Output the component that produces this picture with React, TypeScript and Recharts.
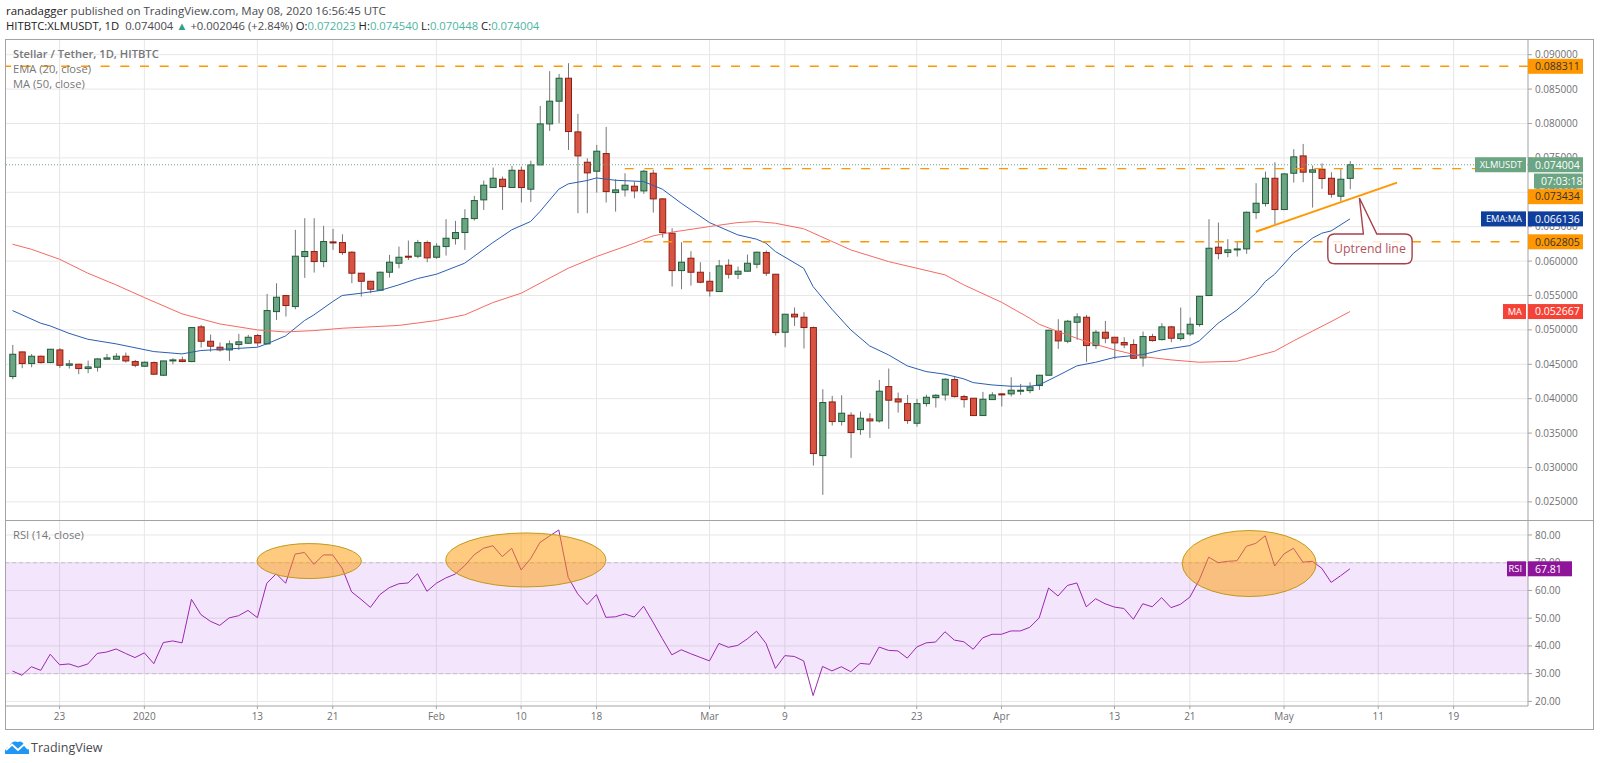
import { Bar, CartesianGrid, ComposedChart, Line, ReferenceArea, ReferenceDot, ReferenceLine, XAxis, YAxis } from 'recharts';

// prices are in 1/1000 USDT
const opens = [
  43.22, 46.8, 45.11, 46.17, 45.25, 47.09, 44.86, 45.01, 44.38, 44.57,
  45.74, 45.74, 46.17, 45.4, 44.72, 45.25, 43.41, 45.49, 45.64, 45.4,
  50.44, 48.35, 47.48, 47.09, 47.87, 48.06, 49.18, 47.97, 52.66, 54.99,
  53.39, 60.66, 61.39, 59.93, 62.79, 62.69, 61.29, 58.24, 57.07, 55.77,
  58.38, 59.69, 60.71, 60.71, 62.69, 60.56, 62.11, 63.27, 64.15, 66.18,
  68.9, 70.69, 71.9, 70.69, 73.2, 70.45, 73.98, 79.94, 83.24, 86.58,
  78.78, 74.37, 73.06, 75.63, 69.96, 70.35, 70.88, 70.2, 72.77, 69.04,
  64.05, 58.62, 60.42, 58.38, 57.07, 55.57, 59.4, 58.09, 58.53, 59.54,
  61.24, 58.09, 49.66, 52.28, 51.84, 50.34, 31.73, 39.53, 36.68, 37.6,
  35.51, 37.06, 36.77, 41.76, 39.97, 39.29, 36.43, 39.29, 40.16, 40.55,
  42.78, 40.31, 40.07, 37.55, 39.87, 40.7, 40.7, 41.09, 41.18, 41.91,
  43.41, 49.81, 48.35, 51.11, 51.84, 47.72, 49.66, 48.93, 48.16, 47.87,
  45.93, 49.03, 48.59, 50.44, 48.74, 49.42, 50.78, 54.99, 62.02, 61.24,
  61.68, 61.77, 67.05, 68.36, 72.04, 67.49, 72.77, 75.29, 72.92, 73.35,
  72.04, 69.43, 72.023,
];
const closes = [
  46.46, 45.11, 46.17, 45.25, 47.19, 44.86, 45.06, 44.38, 44.62, 45.78,
  45.93, 46.17, 45.49, 44.86, 45.3, 43.56, 45.49, 45.64, 45.4, 50.34,
  48.35, 47.63, 47.09, 47.97, 48.26, 48.93, 48.11, 52.81, 54.75, 53.54,
  60.71, 61.39, 59.93, 62.84, 62.69, 61.24, 58.24, 57.07, 55.91, 58.38,
  59.84, 60.56, 60.66, 62.69, 60.47, 62.16, 63.32, 64.15, 66.18, 68.8,
  71.03, 72.04, 70.83, 73.2, 70.69, 73.98, 79.94, 83.24, 86.58, 78.83,
  75.29, 72.82, 75.97, 70.1, 70.35, 71.03, 70.2, 73.06, 69.04, 64.15,
  58.62, 59.84, 58.38, 56.93, 55.67, 59.3, 58.09, 58.53, 59.69, 61.29,
  58.24, 49.61, 52.28, 51.89, 50.34, 32.03, 39.44, 36.68, 37.89, 35.08,
  37.16, 36.77, 41.09, 39.78, 39.53, 36.82, 39.29, 40.21, 40.5, 42.83,
  40.31, 39.87, 37.55, 39.92, 40.55, 40.6, 41.23, 41.23, 41.71, 43.41,
  49.95, 48.4, 51.26, 51.89, 47.72, 49.66, 48.79, 48.11, 47.82, 45.88,
  49.03, 48.45, 50.44, 48.79, 49.42, 50.82, 54.89, 61.87, 61.09, 61.63,
  61.77, 67.1, 68.41, 72.04, 67.49, 72.67, 75.15, 72.92, 73.26, 72,
  69.72, 71.9, 74.004,
];
const highs = [
  47.82, 46.85, 46.5, 46.27, 47.24, 47.34, 45.64, 45.06, 45.54, 45.88,
  46.51, 46.6, 46.7, 45.64, 45.4, 45.4, 45.5, 45.88, 46.12, 50.4,
  50.73, 49.32, 48.16, 48.45, 49.42, 49.27, 49.42, 55.23, 56.78, 55.04,
  64.54, 66.23, 66.23, 65.12, 64.68, 63.9, 61.43, 58.28, 57.12, 58.48,
  60.9, 62.11, 62.98, 63.08, 62.98, 62.6, 66.09, 65.84, 67.54, 69.48,
  71.71, 73.6, 72.29, 73.84, 73.74, 74.6, 82.56, 87.6, 87.2, 88.76,
  81.4, 74.95, 76.89, 79.5, 71.9, 72.77, 71.56, 73.26, 73.26, 69.14,
  64.78, 62.74, 61.43, 59.84, 58.43, 60.17, 60.27, 59.2, 60.95, 61.39,
  61.53, 58.14, 52.28, 53.25, 52.57, 50.48, 41.38, 40.41, 40.5, 38.03,
  38.13, 37.89, 42.73, 44.38, 40.89, 40.55, 39.97, 40.6, 40.65, 42.97,
  43.31, 40.55, 40.07, 40.99, 40.94, 40.79, 43.12, 42.15, 42.39, 43.46,
  50, 51.55, 51.45, 52.42, 52.18, 50, 51.31, 48.98, 48.93, 48.64,
  49.76, 49.42, 50.97, 50.58, 53.25, 51.79, 54.94, 66.09, 65.6, 63.18,
  62.84, 67.2, 71.32, 73.01, 74.37, 72.77, 76.26, 77.03, 73.89, 74.22,
  72.92, 73.5, 74.54,
];
const lows = [
  42.83, 44.43, 44.57, 45.11, 45.16, 44.48, 44.38, 43.56, 43.7, 43.94,
  45.74, 45.64, 45.25, 44.57, 44.62, 43.46, 43.31, 45.01, 45.3, 45.3,
  47.43, 46.85, 46.85, 45.49, 47.09, 47.97, 47.58, 47.87, 51.45, 51.94,
  53, 57.56, 58.33, 59.11, 61.63, 60.9, 56.78, 54.85, 55.33, 55.67,
  57.61, 58.96, 60.17, 60.42, 59.84, 60.32, 60.8, 62.4, 61.63, 65.89,
  67.44, 70.69, 67.44, 70.69, 68.51, 68.6, 73.98, 78.92, 80.04, 76.16,
  66.96, 66.96, 69.96, 68.51, 67.2, 69.38, 69.13, 69.77, 67.05, 63.42,
  56.3, 55.91, 56.44, 56.78, 54.85, 55.57, 57.46, 57.41, 58.48, 58.96,
  57.85, 49.18, 47.48, 50.58, 47.29, 30.28, 26.02, 36.1, 36.1, 31.4,
  34.74, 34.3, 36.53, 35.61, 37.98, 36.34, 35.95, 38.86, 38.71, 39.73,
  40.16, 38.71, 37.55, 37.55, 39.83, 38.86, 40.31, 40.55, 40.79, 41.28,
  43.41, 47.24, 48.06, 48.55, 45.35, 47.24, 48.06, 45.74, 47.34, 45.78,
  44.67, 48.3, 48.45, 48.21, 48.45, 49.13, 50.48, 54.94, 60.27, 60.56,
  60.66, 61.05, 66.13, 67.93, 65.36, 67.44, 71.41, 71.46, 67.78, 70.49,
  69.23, 68.65, 70.448,
];
const rsi = [
  30.96, 29.4, 32.5, 31.2, 37, 33.2, 33.5, 32.4, 33.5, 37.3,
  37.8, 38.9, 37.3, 35.8, 37.5, 33.6, 41.2, 41.8, 41.1, 56.8,
  51.3, 48.9, 47.4, 50.1, 50.9, 52.8, 50.2, 62.6, 66, 62.6,
  73.1, 73.7, 69.4, 72.8, 72.8, 68, 59.5, 56.8, 53.9, 58.5,
  61, 62.4, 62.7, 66, 59.7, 62.6, 64.5, 65.9, 68.9, 72.8,
  75.2, 76.1, 72.2, 75.2, 67.4, 71.4, 77.3, 79.6, 81.8, 64.7,
  58.8, 54.9, 58.5, 50.3, 50.5, 51.5, 50.4, 54.3, 48.6, 42.6,
  36.8, 38.6, 37.2, 35.9, 34.6, 40.9, 39.5, 40.2, 42.5, 45.3,
  40.9, 31.9, 36.5, 36.2, 34.6, 22.1, 32.6, 31, 32.5, 30.7,
  33.7, 33.4, 39.6, 38.4, 38.2, 35.6, 39.6, 41.1, 41.4, 45.1,
  42.1, 41.5, 38.8, 42.9, 44.2, 44.2, 45.4, 45.4, 46.7, 50.1,
  60.9, 58, 61.8, 62.7, 54.1, 57, 55.2, 54, 53.5, 49.6,
  55.2, 54.1, 57.4, 53.8, 55, 57.6, 63.8, 72, 70, 70.5,
  70.7, 75.9, 77, 79.7, 68.8, 73.2, 75.2, 70.2, 70.5, 68,
  62.9, 65.3, 67.81,
];

// [candle index, value] spots
const emaSpots = [
  [0, 52.81], [3, 50.97], [4, 50.58], [6, 49.5], [8, 48.64], [11, 47.97], [15, 46.85], [18, 46.51], [20, 47], [26, 47.48],
  [27, 47.97], [29, 49.13], [31, 51.36], [32, 52.18], [34, 54.12], [35, 55], [37, 55.33], [39, 55.72], [41, 56.54], [43, 57.46],
  [45, 58.09], [48, 59.69], [51, 62.69], [53, 64.54], [55, 65.75], [56, 67.2], [58, 70.45], [59, 71.22], [61, 71.71], [62, 72.09],
  [64, 71.75], [67, 71.56], [69, 70.45], [71, 68.41], [74, 65.6], [77, 63.81], [79, 63.18], [80, 62.6], [81, 61.39], [84, 58.96],
  [85, 56.3], [87, 53], [89, 50], [91, 47.67], [93, 46.37], [95, 44.77], [97, 43.94], [99, 43.56], [101, 42.88], [102, 42.34],
  [104, 42], [106, 41.81], [108, 41.81], [109, 42], [111, 43.36], [113, 44.77], [115, 45.3], [117, 46], [120, 46.41], [122, 47.09],
  [125, 47.72], [126, 48.4], [128, 50.97], [130, 52.9], [132, 55.33], [133, 57.03], [134, 58.09], [136, 61.14], [138, 63.32], [139, 64.05],
  [140, 64.39], [142, 66.136],
];
const maSpots = [
  [0, 62.45], [2, 61.72], [5, 60.27], [8, 58.24], [11, 56.54], [14, 54.7], [18, 52.33], [22, 50.87], [26, 50], [29, 49.7],
  [32, 49.9], [35, 50.24], [41, 50.65], [45, 51.36], [48, 52.18], [51, 53.97], [54, 55.33], [56, 56.78], [58, 58.24], [59, 58.96],
  [62, 60.66], [66, 62.6], [68, 63.66], [70, 64.2], [74, 65.02], [77, 65.6], [79, 65.75], [81, 65.5], [84, 64.7], [89, 61.63],
  [93, 59.93], [99, 58], [101, 56.54], [105, 54.02], [108, 51.7], [109, 50.82], [111, 49.76], [114, 48.3], [117, 47.1], [120, 46.12],
  [123, 45.64], [126, 45.3], [130, 45.45], [134, 46.9], [136, 48.4], [138, 49.81], [140, 51.21], [142, 52.667],
];

const tickIndex = [5, 14, 26, 34, 45, 54, 62, 74, 82, 96, 105, 117, 125, 135, 145, 153];
const tickLabels = ['23', '2020', '13', '21', 'Feb', '10', '18', 'Mar', '9', '23', 'Apr', '13', '21', 'May', '11', '19'];
const priceTicks = [25, 30, 35, 40, 45, 50, 55, 60, 65, 70, 75, 80, 85, 90];
const rsiTicks = [20, 30, 40, 50, 60, 70, 80];

const LAST_PRICE = 74.004;
const RESISTANCE = 88.311;
const MID_LEVEL = 73.434;
const SUPPORT = 62.805;
const EMA_LAST = 66.136;
const MA_LAST = 52.667;
const RSI_LAST = 67.81;

const xDomain = [-0.69, 160.9];
const priceDomain = [22.37, 92.28];
const rsiDomain = [18.34, 85.4];
const xMax = xDomain[1];

const spotMap = (spots: number[][]) => new Map(spots.map(([i, v]) => [i, v]));
const emaMap = spotMap(emaSpots);
const maMap = spotMap(maSpots);

const candles = closes.map((close, i) => ({
  i,
  open: opens[i],
  high: highs[i],
  low: lows[i],
  close,
  rsi: rsi[i],
  ema: emaMap.get(i) ?? null,
  ma: maMap.get(i) ?? null,
}));

const FONT = '"Open Sans", sans-serif';
const AXIS_TEXT = '#6f6f72';
const GRID = '#e7e7e7';
const FRAME = '#a3a3a3';
const ORANGE = '#ff9800';
const UP = '#6ba583';
const DOWN = '#d75442';
const BLUE = '#0f3f9c';
const RED = '#f44336';
const PURPLE = '#8e1599';

function Candle(props: any) {
  const { x, y, width, height, payload } = props;
  const { open, high, low, close } = payload;
  const perUnit = Math.abs(height) / (high - low || 1);
  const top = y + (high - Math.max(open, close)) * perUnit;
  const bodyH = Math.max(Math.abs(open - close) * perUnit, 1);
  const up = close >= open;
  const mid = x + width / 2;
  return (
    <g>
      <line x1={mid} x2={mid} y1={y} y2={y + Math.abs(height)} stroke="#77777a" strokeWidth={1} />
      <rect
        x={x}
        y={top}
        width={width}
        height={bodyH}
        fill={up ? UP : DOWN}
        stroke={up ? '#1f5c37' : '#8f1d12'}
        strokeWidth={1}
      />
    </g>
  );
}

// price tag sitting on the axis, with the optional name plate to its left
function AxisTag(props: any) {
  const { cx, cy, text, name, nameW = 0, bg, ink = '#fff', shift = 0, w = 55, inset = 0 } = props;
  const top = cy + shift - 7.5;
  return (
    <g>
      <rect x={cx + inset} y={top} width={w - inset} height={15} fill={bg} />
      <text x={cx + 7 + inset} y={top + 11.3} fontFamily={FONT} fontSize={10.5} fill={ink}>
        {text}
      </text>
      {name ? (
        <g>
          <rect x={cx - 2 - nameW} y={top} width={nameW} height={15} fill={bg} />
          <text x={cx - 6} y={top + 11} textAnchor="end" fontFamily={FONT} fontSize={9.3} fill={ink}>
            {name}
          </text>
        </g>
      ) : null}
    </g>
  );
}

// callout box, cx/cy is the tip of its pointer
function Callout({ cx, cy }: any) {
  const left = cx - 31.6;
  const right = cx + 52.7;
  const top = cy + 36;
  const bottom = cy + 65.8;
  const r = 7;
  const d = `M${left + r},${top} L${cx + 4},${top} L${cx},${cy} L${cx + 17.4},${top} L${right - r},${top} Q${right},${top} ${right},${top + r} L${right},${bottom - r} Q${right},${bottom} ${right - r},${bottom} L${left + r},${bottom} Q${left},${bottom} ${left},${bottom - r} L${left},${top + r} Q${left},${top} ${left + r},${top} Z`;
  return (
    <g>
      <path d={d} fill="rgba(255,255,255,0.8)" stroke="#a83f49" strokeWidth={1.4} />
      <text x={(left + right) / 2} y={top + 19} textAnchor="middle" fontFamily={FONT} fontSize={12.3} fill="#b3545d">
        Uptrend line
      </text>
    </g>
  );
}

function Oval({ cx, cy, rx, ry }: any) {
  return <ellipse cx={cx} cy={cy} rx={rx} ry={ry} fill="rgba(255,152,0,0.5)" stroke="#c2991c" strokeWidth={1} />;
}

function Logo() {
  return (
    <svg width={26} height={16} style={{ position: 'absolute', left: 4, top: 739 }}>
      <path
        d="M1,15 Q0,9 5,8 Q8,1 14,3 Q18,1 21,7 Q26,9 25,15 Z"
        fill="#2196f3"
      />
      <path d="M2,11 L8,5.5 L14,11 L20,5.5 L24,10" fill="none" stroke="#fff" strokeWidth={1.8} />
    </svg>
  );
}

const legendStyle: React.CSSProperties = {
  position: 'absolute',
  left: 13,
  fontFamily: FONT,
  fontSize: 11.2,
  color: '#77777a',
  whiteSpace: 'nowrap',
};
const headStyle: React.CSSProperties = {
  position: 'absolute',
  left: 6,
  fontFamily: FONT,
  fontSize: 11.5,
  color: '#4a4a4f',
  whiteSpace: 'nowrap',
};
const teal = { color: '#4fb5a3' };
const overlayMargin = { top: 0, right: 66, bottom: 0, left: 0 };

export default function App() {
  const tickFont = { fontFamily: FONT, fontSize: 10, fill: AXIS_TEXT };
  return (
    <div style={{ position: 'absolute', left: 0, top: 0, width: 1600, height: 763, background: '#fff', overflow: 'hidden' }}>
      <div style={{ ...headStyle, top: 3 }}>
        <span style={{ color: '#222' }}>ranadagger</span> published on TradingView.com, May 08, 2020 16:56:45 UTC
      </div>
      <div style={{ ...headStyle, top: 18, fontSize: 11.3 }}>
        <span style={{ color: '#222' }}>HITBTC:XLMUSDT, 1D</span>&nbsp; 0.074004{' '}
        <span style={{ color: '#2e9e8f' }}>▲</span> +0.002046 (+2.84%) <span style={{ color: '#222' }}>O:</span>
        <span style={teal}>0.072023</span> <span style={{ color: '#222' }}>H:</span>
        <span style={teal}>0.074540</span> <span style={{ color: '#222' }}>L:</span>
        <span style={teal}>0.070448</span> <span style={{ color: '#222' }}>C:</span>
        <span style={teal}>0.074004</span>
      </div>

      <div style={{ position: 'absolute', left: 6, top: 39 }}>
        <ComposedChart width={1588} height={481} data={candles} margin={{ top: 0, right: 0, bottom: 0, left: 0 }}>
          <CartesianGrid stroke={GRID} horizontalValues={priceTicks} verticalValues={tickIndex} />
          <XAxis dataKey="i" type="number" domain={xDomain} allowDataOverflow hide />
          <YAxis
            orientation="right"
            width={66}
            domain={priceDomain}
            allowDataOverflow
            ticks={priceTicks}
            interval={0}
            tickFormatter={(v: number) => (v / 1000).toFixed(6)}
            tick={tickFont}
            tickSize={4}
            tickMargin={3}
            stroke={FRAME}
          />
          <ReferenceLine y={LAST_PRICE} stroke={UP} strokeWidth={1} strokeDasharray="1 2" />
          <Bar dataKey={(d: any) => [d.low, d.high]} barSize={6} shape={Candle} isAnimationActive={false} />
          <Line dataKey="ema" stroke="#2a5fb0" strokeWidth={1} dot={false} connectNulls isAnimationActive={false} />
          <Line dataKey="ma" stroke="#f56a63" strokeWidth={1} dot={false} connectNulls isAnimationActive={false} />
          <ReferenceLine y={RESISTANCE} stroke={ORANGE} strokeWidth={1.4} strokeDasharray="9 10.7" />
          <ReferenceLine
            segment={[{ x: 65, y: MID_LEVEL }, { x: xMax, y: MID_LEVEL }]}
            stroke={ORANGE}
            strokeWidth={1.4}
            strokeDasharray="9 10.7"
          />
          <ReferenceLine
            segment={[{ x: 67, y: SUPPORT }, { x: xMax, y: SUPPORT }]}
            stroke={ORANGE}
            strokeWidth={1.4}
            strokeDasharray="9 10.7"
          />
          <ReferenceLine
            segment={[{ x: 132, y: 64.27 }, { x: 147, y: 71.4 }]}
            stroke={ORANGE}
            strokeWidth={2}
          />
          <ReferenceDot x={143} y={69.17} r={0} shape={<Callout />} />
        </ComposedChart>
      </div>

      {/* tags go in their own chart on top, so they cover the axis labels behind them */}
      <div style={{ position: 'absolute', left: 6, top: 39 }}>
        <ComposedChart width={1588} height={481} data={candles} margin={overlayMargin}>
          <XAxis dataKey="i" type="number" domain={xDomain} allowDataOverflow hide />
          <YAxis domain={priceDomain} allowDataOverflow hide />
          <ReferenceDot x={xMax} y={RESISTANCE} r={0} shape={<AxisTag text="0.088311" bg={ORANGE} ink="#333" />} />
          <ReferenceDot x={xMax} y={SUPPORT} r={0} shape={<AxisTag text="0.062805" bg={ORANGE} ink="#333" />} />
          <ReferenceDot
            x={xMax}
            y={MID_LEVEL}
            r={0}
            shape={<AxisTag text="0.073434" bg={ORANGE} ink="#333" shift={28} />}
          />
          <ReferenceDot
            x={xMax}
            y={LAST_PRICE}
            r={0}
            shape={<AxisTag text="07:03:18" bg={UP} shift={16.3} inset={6} />}
          />
          <ReferenceDot
            x={xMax}
            y={LAST_PRICE}
            r={0}
            shape={<AxisTag text="0.074004" name="XLMUSDT" nameW={51} bg={UP} />}
          />
          <ReferenceDot
            x={xMax}
            y={EMA_LAST}
            r={0}
            shape={<AxisTag text="0.066136" name="EMA:MA" nameW={45} bg={BLUE} />}
          />
          <ReferenceDot x={xMax} y={MA_LAST} r={0} shape={<AxisTag text="0.052667" name="MA" nameW={23} bg={RED} />} />
        </ComposedChart>
      </div>

      <div style={{ position: 'absolute', left: 6, top: 520 }}>
        <ComposedChart width={1588} height={210} data={candles} margin={{ top: 0, right: 0, bottom: 0, left: 0 }}>
          <CartesianGrid stroke={GRID} horizontalValues={rsiTicks} verticalValues={tickIndex} />
          <XAxis
            dataKey="i"
            type="number"
            domain={xDomain}
            allowDataOverflow
            ticks={tickIndex}
            interval={0}
            tickFormatter={(v: number) => tickLabels[tickIndex.indexOf(v)]}
            tick={tickFont}
            tickSize={3}
            tickMargin={4}
            height={24}
            stroke={FRAME}
          />
          <YAxis
            orientation="right"
            width={66}
            domain={rsiDomain}
            allowDataOverflow
            ticks={rsiTicks}
            interval={0}
            tickFormatter={(v: number) => v.toFixed(2)}
            tick={tickFont}
            tickSize={4}
            tickMargin={3}
            stroke={FRAME}
          />
          <ReferenceArea y1={30} y2={70} fill="#921ce4" fillOpacity={0.11} stroke="none" />
          <ReferenceLine y={70} stroke="#c9bdcc" strokeDasharray="4 3" />
          <ReferenceLine y={30} stroke="#c9bdcc" strokeDasharray="4 3" />
          <ReferenceDot x={31.5} y={70.6} r={0} shape={<Oval rx={52.2} ry={17.5} />} />
          <ReferenceDot x={54.5} y={71} r={0} shape={<Oval rx={80} ry={27} />} />
          <ReferenceDot x={131.3} y={69.7} r={0} shape={<Oval rx={67} ry={33} />} />
          <Line dataKey="rsi" stroke="#9c27b0" strokeWidth={1} dot={false} isAnimationActive={false} />
        </ComposedChart>
      </div>

      <div style={{ position: 'absolute', left: 6, top: 520 }}>
        <ComposedChart width={1588} height={186} data={candles} margin={overlayMargin}>
          <XAxis dataKey="i" type="number" domain={xDomain} allowDataOverflow hide />
          <YAxis domain={rsiDomain} allowDataOverflow hide />
          <ReferenceDot x={xMax} y={RSI_LAST} r={0} shape={<AxisTag text="67.81" name="RSI" nameW={19} bg={PURPLE} w={44} />} />
        </ComposedChart>
      </div>

      <div style={{ position: 'absolute', left: 5, top: 39, width: 1589, height: 691, border: `1px solid ${FRAME}`, boxSizing: 'border-box', pointerEvents: 'none' }} />
      <div style={{ position: 'absolute', left: 5, top: 520, width: 1589, height: 1, background: FRAME }} />

      <div style={{ ...legendStyle, top: 46, fontWeight: 600 }}>Stellar / Tether, 1D, HITBTC</div>
      <div style={{ ...legendStyle, top: 61 }}>EMA (20, close)</div>
      <div style={{ ...legendStyle, top: 76 }}>MA (50, close)</div>
      <div style={{ ...legendStyle, top: 527 }}>RSI (14, close)</div>

      <Logo />
      <div style={{ position: 'absolute', left: 31, top: 739, fontFamily: FONT, fontSize: 12.5, color: '#4a4a4f' }}>TradingView</div>
    </div>
  );
}
